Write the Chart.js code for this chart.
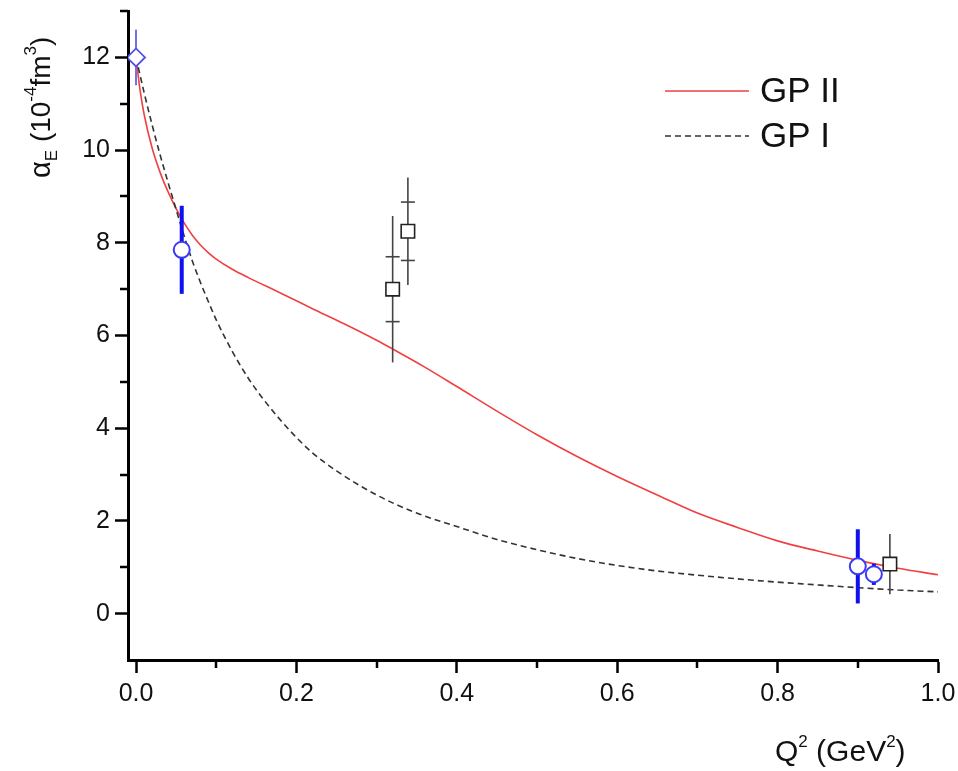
<!DOCTYPE html>
<html>
<head>
<meta charset="utf-8">
<script src="https://cdn.jsdelivr.net/npm/chart.js@4/dist/chart.umd.min.js"></script>
<style>
  html, body { margin: 0; padding: 0; background: #fff; }
</style>
</head>
<body>
<canvas id="myChart" width="958" height="771"></canvas>
<script>
// GP II model curve (red, solid)
const q2GP2 = [0, 0.005, 0.01, 0.02, 0.03, 0.04, 0.05, 0.06, 0.07, 0.08, 0.09, 0.1, 0.12, 0.14, 0.18, 0.22, 0.26, 0.30, 0.32, 0.36, 0.40, 0.45, 0.50, 0.55, 0.60, 0.65, 0.70, 0.75, 0.80, 0.85, 0.90, 0.95, 1.0];
const alphaGP2 = [12.0, 11.3, 10.78, 10.05, 9.52, 9.1, 8.74, 8.43, 8.17, 7.96, 7.79, 7.65, 7.43, 7.25, 6.92, 6.58, 6.25, 5.90, 5.71, 5.32, 4.90, 4.37, 3.86, 3.39, 2.96, 2.56, 2.17, 1.86, 1.57, 1.35, 1.15, 0.98, 0.84];

// GP I model curve (black, dashed)
const q2GP1 = [0, 0.01, 0.02, 0.03, 0.04, 0.05, 0.06, 0.07, 0.08, 0.09, 0.1, 0.12, 0.14, 0.16, 0.18, 0.2, 0.22, 0.25, 0.3, 0.35, 0.4, 0.45, 0.5, 0.55, 0.6, 0.65, 0.7, 0.75, 0.8, 0.85, 0.9, 0.95, 1.0];
const alphaGP1 = [12.0, 11.25, 10.55, 9.9, 9.3, 8.72, 8.15, 7.62, 7.16, 6.74, 6.34, 5.66, 5.08, 4.60, 4.18, 3.80, 3.47, 3.08, 2.56, 2.17, 1.88, 1.60, 1.38, 1.19, 1.04, 0.92, 0.83, 0.75, 0.68, 0.62, 0.56, 0.51, 0.47];

// data points
const q2Diamond = [0];
const alphaDiamond = [12.0];
const errDiamond = [0.6];

const q2Circle = [0.057, 0.90, 0.92];
const alphaCircle = [7.85, 1.02, 0.85];
const errCircle = [0.95, 0.80, 0.23];

const q2Square = [0.32, 0.339, 0.94];
const alphaSquare = [7.0, 8.25, 1.07];
const statSquare = [0.7, 0.63, null];
const totSquare = [1.58, 1.16, 0.65];

// axis ticks
const xTicks = [0, 0.2, 0.4, 0.6, 0.8, 1.0];
const xMinor = [0.1, 0.3, 0.5, 0.7, 0.9];
const yTicks = [0, 2, 4, 6, 8, 10, 12];
const yMinor = [1, 3, 5, 7, 9, 11, 13];

const FONT = "'Liberation Sans', Arial, sans-serif";

function pts(xs, ys) {
  return xs.map((x, i) => ({ x: x, y: ys[i] }));
}

const errorBars = {
  id: "errorBars",
  beforeDatasetDraw(chart, args) {
    const ds = chart.data.datasets[args.index];
    if (!ds.errTot) return;
    const ctx = chart.ctx;
    const xs = chart.scales.x, ys = chart.scales.y;
    ctx.save();
    ctx.strokeStyle = ds.errColor;
    ctx.lineWidth = ds.errWidth;
    ctx.lineCap = "butt";
    ds.data.forEach((p, i) => {
      const px = xs.getPixelForValue(p.x);
      ctx.beginPath();
      ctx.moveTo(px, ys.getPixelForValue(p.y + ds.errTot[i]));
      ctx.lineTo(px, ys.getPixelForValue(p.y - ds.errTot[i]));
      ctx.stroke();
      if (ds.errStat && ds.errStat[i]) {
        [p.y + ds.errStat[i], p.y - ds.errStat[i]].forEach((v) => {
          const py = ys.getPixelForValue(v);
          ctx.beginPath();
          ctx.moveTo(px - 7, py);
          ctx.lineTo(px + 7, py);
          ctx.stroke();
        });
      }
    });
    ctx.restore();
  },
};

const minorTicks = {
  id: "minorTicks",
  afterDraw(chart) {
    const ctx = chart.ctx;
    const area = chart.chartArea;
    const xs = chart.scales.x, ys = chart.scales.y;
    ctx.save();
    ctx.strokeStyle = "#000";
    ctx.lineWidth = 2.5;
    yMinor.forEach((v) => {
      const py = Math.round(ys.getPixelForValue(v));
      ctx.beginPath();
      ctx.moveTo(area.left - 8, py);
      ctx.lineTo(area.left, py);
      ctx.stroke();
    });
    xMinor.forEach((v) => {
      const px = Math.round(xs.getPixelForValue(v));
      ctx.beginPath();
      ctx.moveTo(px, area.bottom);
      ctx.lineTo(px, area.bottom + 8);
      ctx.stroke();
    });
    ctx.restore();
  },
};

// draws a run of text pieces with sizes and baseline offsets
function drawRuns(ctx, x, y, runs) {
  runs.forEach((r) => {
    ctx.font = r.size + "px " + FONT;
    ctx.fillText(r.t, x, y + (r.dy || 0));
    x += ctx.measureText(r.t).width;
  });
}

const titles = {
  id: "titles",
  afterDraw(chart) {
    const ctx = chart.ctx;
    ctx.save();
    ctx.fillStyle = "#111";
    ctx.textBaseline = "alphabetic";
    ctx.textAlign = "left";
    drawRuns(ctx, 775, 761, [
      { t: "Q", size: 30 },
      { t: "2", size: 17, dy: -14 },
      { t: " (GeV", size: 30 },
      { t: "2", size: 17, dy: -14 },
      { t: ")", size: 30 },
    ]);
    ctx.translate(50, 178);
    ctx.rotate(-Math.PI / 2);
    drawRuns(ctx, 0, 0, [
      { t: "\u03b1", size: 29 },
      { t: "E", size: 17, dy: 7 },
      { t: " (10", size: 28 },
      { t: "-4", size: 17, dy: -14 },
      { t: "fm", size: 28 },
      { t: "3", size: 17, dy: -14 },
      { t: ")", size: 28 },
    ]);
    ctx.restore();
  },
};

const legendBox = {
  id: "legendBox",
  afterDraw(chart) {
    const ctx = chart.ctx;
    ctx.save();
    [0, 1].forEach((i, k) => {
      const ds = chart.data.datasets[i];
      const y = 91 + k * 45;
      ctx.strokeStyle = ds.borderColor;
      ctx.lineWidth = ds.borderWidth;
      ctx.setLineDash(ds.borderDash || []);
      ctx.beginPath();
      ctx.moveTo(665, y);
      ctx.lineTo(749, y);
      ctx.stroke();
      ctx.setLineDash([]);
      ctx.fillStyle = "#111";
      ctx.font = "35px " + FONT;
      ctx.textBaseline = "middle";
      ctx.fillText(ds.label, 760, y + 1);
    });
    ctx.restore();
  },
};

const ctx = document.getElementById("myChart").getContext("2d");
const myChart = new Chart(ctx, {
  type: "scatter",
  data: {
    datasets: [
      {
        label: "GP II",
        data: pts(q2GP2, alphaGP2),
        showLine: true,
        borderColor: "#f04040",
        borderWidth: 1.6,
        pointRadius: 0,
        cubicInterpolationMode: "monotone",
        order: 5,
      },
      {
        label: "GP I",
        data: pts(q2GP1, alphaGP1),
        showLine: true,
        borderColor: "#333",
        borderWidth: 1.6,
        borderDash: [6, 4],
        pointRadius: 0,
        cubicInterpolationMode: "monotone",
        order: 4,
      },
      {
        label: "diamond",
        data: pts(q2Diamond, alphaDiamond),
        pointStyle: "rectRot",
        pointRadius: 9,
        borderColor: "#5050e6",
        backgroundColor: "#fff",
        borderWidth: 1.8,
        errTot: errDiamond,
        errColor: "#7272e8",
        errWidth: 2,
        order: 3,
      },
      {
        label: "circles",
        data: pts(q2Circle, alphaCircle),
        pointStyle: "circle",
        pointRadius: 8,
        borderColor: "#3a3af5",
        backgroundColor: "#fff",
        borderWidth: 2,
        errTot: errCircle,
        errColor: "#1010f0",
        errWidth: 4,
        order: 2,
      },
      {
        label: "squares",
        data: pts(q2Square, alphaSquare),
        pointStyle: "rect",
        pointRadius: 9.5,
        borderColor: "#222",
        backgroundColor: "#fff",
        borderWidth: 1.6,
        errTot: totSquare,
        errStat: statSquare,
        errColor: "#444",
        errWidth: 1.6,
        order: 1,
      },
    ],
  },
  options: {
    responsive: false,
    animation: false,
    layout: { padding: { top: 8, right: 20, left: 0, bottom: 0 } },
    plugins: {
      legend: { display: false },
      tooltip: { enabled: false },
    },
    scales: {
      x: {
        type: "linear",
        min: -0.01,
        max: 1.0,
        afterBuildTicks: (s) => {
          s.ticks = xTicks.map((v) => ({ value: v }));
        },
        afterFit: (s) => {
          s.height = 111;
          s.paddingLeft = 0;
          s.paddingRight = 0;
        },
        grid: { drawOnChartArea: false, tickLength: 13, tickWidth: 2.5, tickColor: "#000" },
        border: { color: "#000", width: 3 },
        ticks: {
          font: { family: FONT, size: 25 },
          color: "#111",
          padding: 6,
          maxRotation: 0,
          autoSkip: false,
          callback: (v) => v.toFixed(1),
        },
      },
      y: {
        type: "linear",
        min: -1,
        max: 13,
        afterBuildTicks: (s) => {
          s.ticks = yTicks.map((v) => ({ value: v }));
        },
        afterFit: (s) => {
          s.width = 128;
          s.paddingTop = 0;
          s.paddingBottom = 0;
        },
        grid: { drawOnChartArea: false, tickLength: 13, tickWidth: 2.5, tickColor: "#000" },
        border: { color: "#000", width: 3 },
        ticks: {
          font: { family: FONT, size: 25 },
          color: "#111",
          padding: 5,
          autoSkip: false,
        },
      },
    },
  },
  plugins: [errorBars, minorTicks, titles, legendBox],
});
</script>
</body>
</html>
